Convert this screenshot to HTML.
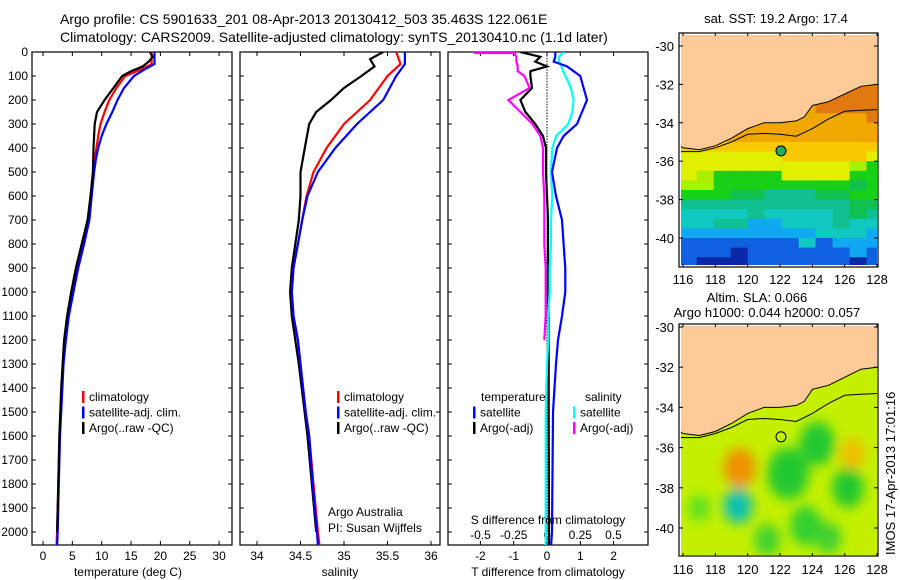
<!DOCTYPE html>
<html><head><meta charset="utf-8">
<style>
html,body{margin:0;padding:0;background:#fff;}
svg{display:block;font-family:"Liberation Sans",sans-serif;}
</style></head>
<body>
<svg id="fig" width="900" height="580" viewBox="0 0 900 580" xmlns="http://www.w3.org/2000/svg">
<defs>
<clipPath id="clipTop"><rect x="681" y="35" width="196" height="230"/></clipPath>
<clipPath id="clipBot"><rect x="681" y="326" width="196" height="229"/></clipPath>
<clipPath id="clipP1"><rect x="32" y="52" width="200" height="493"/></clipPath>
<clipPath id="clipP2"><rect x="240" y="52" width="200" height="493"/></clipPath>
<clipPath id="clipP3"><rect x="448" y="52" width="200" height="493"/></clipPath>
<filter id="blur" x="-50%" y="-50%" width="200%" height="200%"><feGaussianBlur stdDeviation="6"/></filter>
</defs>
<text x="60" y="24" font-size="14">Argo profile: CS 5901633_201 08-Apr-2013 20130412_503 35.463S 122.061E</text>
<text x="60" y="42" font-size="14">Climatology: CARS2009. Satellite-adjusted climatology: synTS_20130410.nc (1.1d later)</text>
<g id="g"></g>
</svg>
<script>
// ---- depth grids & profile data ----
const tDepth = [0,50,70,100,150,200,250,300,350,400,450,500,600,700,800,900,1000,1100,1200,1300,1400,1500,1600,1800,2000,2060];
const tClim  = [18.5,18.5,17,14,12.5,11.3,10.5,9.8,9.4,9.1,8.8,8.6,8.2,7.8,6.8,5.8,5.0,4.3,3.8,3.4,3.2,3.0,2.8,2.6,2.4,2.3];
const tSat   = [19,19,17.5,15.5,13.8,12.7,11.8,10.8,10,9.4,9.0,8.7,8.3,7.9,7.0,6.0,5.2,4.4,3.9,3.5,3.3,3.1,2.9,2.7,2.5,2.4];
const tArgoDepth = [0,20,40,60,80,100,150,200,250,300,400,500,600,700,800,900,1000,1100,1200,1400,1600,1800,2000];
const tArgo  = [18.2,18.7,18,17,15,13.5,12,10.5,9.2,8.8,8.6,8.5,8.1,7.6,6.6,5.6,4.8,4.1,3.6,3.1,2.8,2.6,2.4];

const sDepth = [0,50,100,200,300,400,500,600,700,800,900,1000,1100,1200,1300,1400,1500,1600,1800,2000,2060];
const sClim  = [35.6,35.65,35.5,35.3,35.0,34.8,34.65,34.57,34.52,34.47,34.42,34.4,34.42,34.47,34.5,34.53,34.56,34.6,34.65,34.7,34.72];
const sSat   = [35.7,35.7,35.6,35.45,35.15,34.9,34.7,34.58,34.52,34.47,34.42,34.4,34.42,34.47,34.5,34.53,34.56,34.6,34.64,34.69,34.7];
const sArgoDepth = [0,30,60,100,150,200,250,300,400,500,600,700,800,900,1000,1100,1300,1600,2000];
const sArgo  = [35.45,35.3,35.35,35.2,35.0,34.85,34.68,34.6,34.55,34.5,34.5,34.48,34.44,34.4,34.38,34.4,34.48,34.58,34.68];

const dDepth = [0,20,40,60,80,100,150,200,250,300,350,400,500,600,700,800,900,1000,1100,1200,1300,1500,2000,2060];
const dTSat  = [0.25,0.25,0.2,0.6,0.8,1.0,1.1,1.2,1.05,0.9,0.5,0.3,0.15,0.27,0.45,0.5,0.55,0.55,0.45,0.33,0.27,0.18,0.15,0.12];
const dTArgo = [-0.8,-0.2,-0.35,0,-0.5,-0.5,-0.45,-0.8,-0.65,-0.35,-0.12,-0.03,-0.03,0,0.03,0.03,0.03,0.03,0.05,0.05,0.05,0.05,0.06,0.06];
const dSSat  = [0.13,0.09,0.09,0.11,0.12,0.14,0.18,0.2,0.19,0.16,0.07,0.04,0.03,0.04,0.03,0.03,0.02,0.02,0.01,0.01,0.0,-0.01,-0.01,-0.01];
const dSArgo = [-0.25,-0.23,-0.23,-0.22,-0.22,-0.17,-0.13,-0.29,-0.2,-0.11,-0.05,-0.03,-0.03,-0.02,-0.02,-0.02,-0.01,-0.01,-0.01,-0.02];

const depthTicks = [0,100,200,300,400,500,600,700,800,900,1000,1100,1200,1300,1400,1500,1600,1700,1800,1900,2000];
const tTicks = [0,5,10,15,20,25,30];
const sTicks = [34,34.5,35,35.5,36];
const sTickLabels = ["34","34.5","35","35.5","36"];
const dTTicks = [-2,-1,0,1,2];
const dSTicks = [-0.5,-0.25,0,0.25,0.5];
const dSTickLabels = ["-0.5","-0.25","0","0.25","0.5"];

// ---- map data ----
const lonTicks = [116,118,120,122,124,126,128];
const latTicks = [-30,-32,-34,-36,-38,-40];
const coastLon = [115.8,116,117,118,119,120,121,122,123,123.5,124,125,126,127,128,128.3];
const coastLat = [-35.2,-35.3,-35.4,-35.2,-34.8,-34.3,-34.0,-34.0,-33.9,-33.7,-33.1,-32.9,-32.5,-32.1,-32.0,-31.9];
const isoLon = [115.8,117,118,119,120,121,122,123,124,125,126,127,128.3];
const isoLat = [-35.5,-35.5,-35.3,-35.0,-34.6,-34.55,-34.6,-34.7,-34.3,-33.8,-33.4,-33.35,-33.3];
const sstRowLat = [-32.0,-32.5,-33.0,-33.5,-34.0,-34.5,-35.0,-35.5,-36.0,-36.5,-37.0,-37.5,-38.0,-38.5,-39.0,-39.5,-40.0,-40.5,-41.0];
const sstRows = [
"oooooooooooo","oooooooooooo","OOOOOOOOoooo","OOOOOOOOOOOo","OOOOOOOOOOOO","ooOOOOOOOOOO",
"yyyyyyyyyyyy","YYYYYYyyyyyY","YYYYYYYYYYlg","YlggggYYYYgg","llggggggggGg","gggGGtttGGgg",
"ttttttttttGG","cccctcccctGt","ccttssccctcc","sssssssscccs","bbbbbbbcbsss","bbbnbbbbbbsb","bnnnbbbbbbnb"];
const sstColors = {o:"#e07a10",O:"#f0a800",y:"#f8c800",Y:"#e0f000",l:"#a8f000",g:"#18d018",G:"#10c050",t:"#10c090",c:"#10c8c0",s:"#10a8f0",b:"#1060e0",n:"#0a28a8"};
const slaBlobLon = [119.5,126.5,119.4,122.5,124.3,126.2,123.6,121.2,117.0,125.0];
const slaBlobLat = [-37.0,-36.3,-38.9,-37.3,-35.8,-38.0,-39.9,-40.6,-39.0,-40.5];
const slaBlobCol = ["#f09000","#f0c000","#10c0b0","#20c830","#20c830","#20c830","#30d030","#40d030","#60e020","#40d030"];
const slaBlobR = [1.0,0.8,0.9,1.3,1.1,1.0,1.0,0.8,0.7,0.8];
const argoLon = 122.061, argoLat = -35.463;

const NS="http://www.w3.org/2000/svg";
const G=document.getElementById('g');
function mk(tag,attrs,parent){const e=document.createElementNS(NS,tag);for(const k in attrs)e.setAttribute(k,attrs[k]);(parent||G).appendChild(e);return e;}

const FB = 545;
const yD = d => 52 + d*0.24;
const xT = t => 43 + t*5.87;
const xS = s => 257 + (s-34)*87;
const xDT = t => 547 + t*33.3;
const xDS = s => 547 + s*133;

function frame(x0,x1,name){
  const r=mk('rect',{x:x0,y:52,width:x1-x0,height:FB-52,fill:'none',stroke:'#000','stroke-width':1.2});
  
  
  depthTicks.forEach(d=>{mk('line',{x1:x0,x2:x0+4,y1:yD(d),y2:yD(d),stroke:'#000'});mk('line',{x1:x1-4,x2:x1,y1:yD(d),y2:yD(d),stroke:'#000'});});
}
function line(xs,ds,xf,color,name,clip){
  const pts=xs.map((v,i)=>xf(v).toFixed(1)+','+yD(ds[i]).toFixed(1)).join(' ');
  const p=mk('polyline',{points:pts,fill:'none',stroke:color,'stroke-width':2.2,'clip-path':'url(#'+clip+')'});
  
  
}
function txt(x,y,s,opts){const t=mk('text',Object.assign({x:x,y:y,'font-size':12},opts||{}));t.textContent=s;return t;}

depthTicks.forEach(d=>{const t=txt(28,yD(d)+4,String(d),{'text-anchor':'end'});
  
  });

// Panel 1
frame(32,232,'temperature-panel-frame');
tTicks.forEach(v=>{mk('line',{x1:xT(v),x2:xT(v),y1:FB-4,y2:FB,stroke:'#000'});mk('line',{x1:xT(v),x2:xT(v),y1:52,y2:56,stroke:'#000'});
  const t=txt(xT(v),560,String(v),{'text-anchor':'middle'});
  
  });
line(tClim,tDepth,xT,'#f00','temp-climatology-line','clipP1');
line(tSat,tDepth,xT,'#00f','temp-satellite-line','clipP1');
line(tArgo,tArgoDepth,xT,'#000','temp-argo-line','clipP1');
txt(128,576,'temperature (deg C)',{'text-anchor':'middle'});

// Panel 2
frame(240,440,'salinity-panel-frame');
sTicks.forEach((v,i)=>{mk('line',{x1:xS(v),x2:xS(v),y1:FB-4,y2:FB,stroke:'#000'});mk('line',{x1:xS(v),x2:xS(v),y1:52,y2:56,stroke:'#000'});
  const t=txt(xS(v),560,sTickLabels[i],{'text-anchor':'middle'});
  
  });
line(sArgo,sArgoDepth,xS,'#000','sal-argo-line','clipP2');
line(sClim,sDepth,xS,'#f00','sal-climatology-line','clipP2');
line(sSat,sDepth,xS,'#00f','sal-satellite-line','clipP2');
txt(340,576,'salinity',{'text-anchor':'middle'});
txt(328,516,'Argo Australia');txt(328,532,'PI: Susan Wijffels');

// Panel 3
frame(448,648,'difference-panel-frame');
for(let d=0;d<=2050;d+=12) mk('line',{x1:547,x2:547,y1:yD(d),y2:yD(d)+1.5,stroke:'#000','stroke-width':1});
dTTicks.forEach(v=>{mk('line',{x1:xDT(v),x2:xDT(v),y1:FB-4,y2:FB,stroke:'#000'});mk('line',{x1:xDT(v),x2:xDT(v),y1:52,y2:56,stroke:'#000'});
  const t=txt(xDT(v),560,String(v),{'text-anchor':'middle'});
  
  });
dSTicks.forEach((v,i)=>{const t=txt(xDS(v),539,dSTickLabels[i],{'text-anchor':'middle'});
  
  });
line(dSArgo,dDepth.slice(0,dSArgo.length),xDS,'#f0f','s-diff-argo-line','clipP3');
mk('line',{x1:xDS(-0.55),x2:xDS(-0.25),y1:53,y2:53,stroke:'#f0f','stroke-width':2.2});
line(dTArgo,dDepth,xDT,'#000','t-diff-argo-line','clipP3');
line(dSSat,dDepth,xDS,'#0ff','s-diff-satellite-line','clipP3');
line(dTSat,dDepth,xDT,'#00f','t-diff-satellite-line','clipP3');
txt(548,524,'S difference from climatology',{'text-anchor':'middle'});
txt(548,576,'T difference from climatology',{'text-anchor':'middle'});

function legend(x,y0,items,name){
  items.forEach((it,i)=>{const y=y0+i*15.5;
    const g=mk('g',{});
    
    
    mk('rect',{x:x,y:y-10,width:2.5,height:12,fill:it[1]},g);
    const t=mk('text',{x:x+7,y:y,'font-size':12},g);t.textContent=it[0];});
}
legend(82,401,[['climatology','#f00'],['satellite-adj. clim.','#00f'],['Argo(..raw -QC)','#000']],'temp-legend');
legend(337,401,[['climatology','#f00'],['satellite-adj. clim.','#00f'],['Argo(..raw -QC)','#000']],'sal-legend');
txt(481,401,'temperature');txt(585,401,'salinity');
legend(473,416.5,[['satellite','#00f'],['Argo(-adj)','#000']],'tdiff-legend');
legend(573,416.5,[['satellite','#0ff'],['Argo(-adj)','#f0f']],'sdiff-legend');

// ---- Maps ----
const lonX = lon => 683 + (lon-116)*16.17;
const latYT = lat => 46 + (-30-lat)*19.2;
const latYB = lat => 327 + (-30-lat)*20.1;
function landPath(latY){
  let d='M'+lonX(115.8)+','+latY(-29)+' ';
  coastLon.forEach((lo,i)=>{d+='L'+lonX(lo).toFixed(1)+','+latY(coastLat[i]).toFixed(1)+' ';});
  d+='L'+lonX(128.3)+','+latY(-29)+'Z';return d;
}
function poly(lons,lats,latY){return lons.map((lo,i)=>lonX(lo).toFixed(1)+','+latY(lats[i]).toFixed(1)).join(' ');}
function mapAxes(y0,y1,latY,labY,name){
  const r=mk('rect',{x:679,y:y0,width:199,height:y1-y0,fill:'none',stroke:'#000','stroke-width':1.2});
  
  
  lonTicks.forEach(lo=>{mk('line',{x1:lonX(lo),x2:lonX(lo),y1:y0,y2:y0+3,stroke:'#000'});mk('line',{x1:lonX(lo),x2:lonX(lo),y1:y1-3,y2:y1,stroke:'#000'});
    const t=txt(lonX(lo),labY,String(lo),{'text-anchor':'middle','font-size':13});
    
    });
  latTicks.forEach(la=>{mk('line',{x1:679,x2:683,y1:latY(la),y2:latY(la),stroke:'#000'});mk('line',{x1:874,x2:878,y1:latY(la),y2:latY(la),stroke:'#000'});
    const t=txt(674,latY(la)+5,String(la),{'text-anchor':'end','font-size':13});
    
    });
}
const gt=mk('g',{'clip-path':'url(#clipTop)'});


sstRows.forEach((row,ri)=>{const la=sstRowLat[ri];
  for(let c=0;c<row.length;c++){const lo=115.8+c*1.05;
    mk('rect',{x:lonX(lo).toFixed(1),y:latYT(la).toFixed(1),width:17.5,height:10.5,fill:sstColors[row[c]]},gt);}});
mk('path',{d:landPath(latYT),fill:'#fdca98',stroke:'#000','stroke-width':1},gt);
mk('polyline',{points:poly(isoLon,isoLat,latYT),fill:'none',stroke:'#000','stroke-width':1},gt);
const dotT=mk('circle',{cx:lonX(argoLon),cy:latYT(argoLat),r:5,fill:'#20b060',stroke:'#000'},gt);


mapAxes(33,267,latYT,284,'sst-map-frame');
txt(776,23,'sat. SST: 19.2 Argo: 17.4',{'text-anchor':'middle','font-size':13});

const gb=mk('g',{'clip-path':'url(#clipBot)'});


mk('rect',{x:679,y:324,width:199,height:234,fill:'#c4f000'},gb);
const bl=mk('g',{filter:'url(#blur)'},gb);
slaBlobLon.forEach((lo,i)=>{mk('ellipse',{cx:lonX(lo),cy:latYB(slaBlobLat[i]),rx:slaBlobR[i]*16,ry:slaBlobR[i]*20,fill:slaBlobCol[i]},bl);});
mk('path',{d:landPath(latYB),fill:'#fdca98',stroke:'#000','stroke-width':1},gb);
mk('polyline',{points:poly(isoLon,isoLat,latYB),fill:'none',stroke:'#000','stroke-width':1},gb);
const dotB=mk('circle',{cx:lonX(argoLon),cy:latYB(argoLat),r:5,fill:'none',stroke:'#000'},gb);


mapAxes(324,556,latYB,574,'sla-map-frame');
txt(757,302,'Altim. SLA: 0.066',{'text-anchor':'middle','font-size':13});
txt(767,317,'Argo h1000: 0.044 h2000: 0.057',{'text-anchor':'middle','font-size':13});
txt(0,0,'IMOS 17-Apr-2013 17:01:16',{'font-size':13,transform:'translate(895,555) rotate(-90)'});
</script>
</body></html>
